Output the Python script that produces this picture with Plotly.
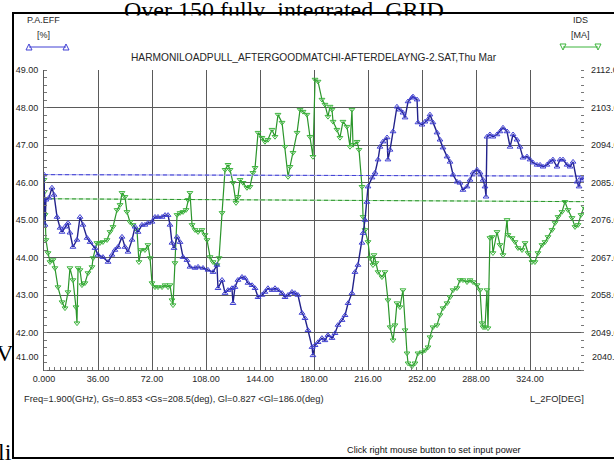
import plotly.graph_objects as go

# ---- sweep data: second-harmonic load angle L_2FO (deg) ----
eff_deg = [0, 0.7, 1.3, 3.3, 5.3, 6.7, 8.7, 10.7, 12, 14,
           16, 17.3, 19.3, 22, 24, 26, 28.7, 30.7, 34, 36,
           39.3, 42.7, 45.3, 47.3, 49.3, 52, 54, 56, 58.7, 60.7,
           62.7, 65.3, 67.3, 69.3, 72, 74, 76, 78.7, 80.7, 82.7,
           84, 85.3, 86.7, 88.7, 90.7, 92.7, 95.3, 97.3, 100.7, 102.7,
           106, 109.3, 112.7, 115.3, 116, 118.7, 120.7, 122.7, 125.3, 126,
           127.3, 129.3, 132, 134, 136, 138.7, 140.7, 142.7, 145.3, 147.3,
           149.3, 152, 154, 156, 158.7, 160.7, 162.7, 165.3, 167.3, 169.3,
           172, 174, 176, 178.7, 179.3, 180.7, 182.7, 185.3, 187.3, 189.3,
           192, 194, 196, 198.7, 200.7, 202.7, 205.3, 207.3, 209.3, 212,
           212.7, 214, 215.3, 216, 218.7, 220.7, 222.7, 224, 226, 228.7,
           229.3, 230.7, 232.7, 235.3, 237.3, 239.3, 240.7, 242.7, 245.3, 246,
           248.7, 249.3, 252, 254, 256, 257.3, 259.3, 262, 264, 266,
           268.7, 270.7, 272.7, 275.3, 277.3, 279.3, 282, 284, 286, 288.7,
           290.7, 292.7, 294, 294.7, 295.3, 297.3, 299.3, 302, 304, 306,
           308.7, 310.7, 312.7, 315.3, 317.3, 319.3, 322, 324, 326, 328.7,
           330.7, 332.7, 335.3, 337.3, 339.3, 342, 344, 346, 348.7, 350.7,
           352.7, 355.3, 356.7, 358, 359.3]

# P.A.EFF [%]
eff_pct = [46.21, 44.87, 45.54, 45.59, 45.86, 45.67, 45.08, 44.79, 44.68, 44.82,
           44.92, 44.66, 44.28, 44.47, 45.08, 44.87, 44.52, 44.41, 44.25, 44.07,
           44.01, 43.88, 44.07, 44.20, 44.28, 44.55, 44.28, 44.15, 44.47, 44.82,
           44.68, 44.87, 44.87, 44.92, 44.95, 45.08, 45.08, 45.08, 45.13, 45.13,
           44.87, 44.39, 44.25, 44.55, 44.41, 44.01, 43.93, 43.75, 43.72, 43.75,
           43.72, 43.67, 43.61, 43.80, 43.18, 43.40, 43.05, 43.13, 43.18, 42.78,
           43.21, 43.40, 43.48, 43.45, 43.32, 43.26, 43.18, 42.94, 43.00, 43.08,
           43.18, 43.13, 43.18, 43.13, 43.05, 42.94, 43.00, 43.08, 43.05, 43.00,
           42.52, 42.38, 42.06, 41.61, 41.39, 41.66, 41.74, 41.85, 41.79, 41.93,
           41.85, 41.98, 42.20, 42.33, 42.46, 42.78, 43.05, 43.61, 43.80, 44.39,
           44.65, 45.00, 45.48, 45.89, 46.13, 46.26, 46.61, 46.95, 47.09, 47.20,
           46.61, 46.87, 47.36, 48.02, 47.94, 47.86, 47.73, 48.16, 48.26, 48.29,
           48.21, 47.60, 47.54, 47.62, 47.68, 47.81, 47.60, 47.33, 47.14, 46.93,
           46.69, 46.55, 46.21, 46.02, 45.99, 45.80, 45.89, 46.07, 46.26, 46.34,
           46.26, 46.07, 45.89, 45.62, 47.22, 47.28, 47.22, 47.28, 47.36, 47.46,
           47.36, 46.95, 47.28, 47.14, 46.95, 46.66, 46.69, 46.61, 46.53, 46.47,
           46.47, 46.42, 46.47, 46.55, 46.61, 46.42, 46.61, 46.61, 46.47, 46.42,
           46.55, 46.02, 45.89, 46.13, 46.07]

ids_deg = [0, 0.3, 0.7, 1.3, 2.7, 4, 6, 7.3, 9.3, 12,
           14, 16, 17.3, 19.3, 21.3, 22, 22.7, 24, 25.3, 27.3,
           29.3, 32, 32.7, 35.3, 37.3, 39.3, 42, 44, 46, 48.7,
           50.7, 52, 54, 55.3, 57.3, 59.3, 62, 63.3, 64.7, 67.3,
           69.3, 70.7, 72, 74, 76, 78.7, 80.7, 82.7, 84, 85.3,
           86, 87.3, 88.7, 90.7, 92.7, 94.7, 96, 97.3, 98.7, 100.7,
           102.7, 105.3, 107.3, 108.7, 110.7, 112.7, 115.3, 116.7, 118.7, 120.7,
           122.7, 124, 126, 128, 129.3, 130.7, 132.7, 135.3, 137.3, 139.3,
           140.7, 142.7, 145.3, 147.3, 149.3, 152, 154, 156, 158.7, 160.7,
           162.7, 164, 166, 168.7, 170.7, 172.7, 175.3, 177.3, 179.3, 180.7,
           182.7, 185.3, 187.3, 189.3, 190.7, 192, 192.7, 195.3, 197.3, 199.3,
           202, 204, 205.3, 206, 208.7, 210, 212, 212.7, 214, 216,
           217.3, 219.3, 220, 221.3, 222.7, 225.3, 227.3, 229.3, 230.7, 232.7,
           234, 235.3, 237.3, 239.3, 240.7, 242, 242.7, 245.3, 247.3, 249.3,
           252, 254, 256, 257.3, 259.3, 262, 264, 266, 268.7, 270.7,
           272.7, 275.3, 277.3, 279.3, 282, 284, 286, 288.7, 290.7, 292,
           292.7, 294, 295.3, 296, 297.3, 298.7, 299.3, 302, 304, 306,
           308.7, 309.3, 312, 314, 316, 318.7, 320.7, 322.7, 325.3, 327.3,
           329.3, 332, 334, 336, 338.7, 340.7, 342.7, 345.3, 347.3, 349.3,
           352, 354, 356, 358, 360]

# IDS [MA]
ids_ma = [2085.65, 2082.76, 2077.23, 2071.21, 2068.08, 2065.92, 2066.40, 2064.47, 2059.90, 2056.29,
          2054.85, 2058.70, 2064.47, 2061.59, 2055.09, 2051.24, 2064.47, 2063.99, 2060.38, 2060.86,
          2063.27, 2064.72, 2066.88, 2070.49, 2070.49, 2070.73, 2071.21, 2073.14, 2074.34, 2078.43,
          2079.63, 2082.52, 2081.56, 2077.95, 2075.54, 2074.82, 2073.62, 2065.92, 2068.81, 2068.81,
          2070.01, 2066.88, 2060.86, 2059.90, 2059.90, 2059.90, 2060.38, 2059.90, 2060.38, 2056.77,
          2055.57, 2065.68, 2077.23, 2077.71, 2077.95, 2078.43, 2080.84, 2082.52, 2074.82, 2073.62,
          2073.14, 2073.62, 2072.42, 2071.21, 2067.12, 2065.92, 2065.20, 2066.88, 2077.71, 2088.06,
          2089.26, 2088.06, 2084.93, 2080.12, 2081.56, 2085.65, 2084.93, 2083.73, 2083.97, 2087.33,
          2088.54, 2096.96, 2095.75, 2094.79, 2095.27, 2097.68, 2095.99, 2101.29, 2099.37, 2093.59,
          2086.37, 2088.78, 2092.15, 2096.96, 2102.49, 2102.01, 2101.29, 2095.99, 2091.18, 2109.71,
          2109.23, 2104.90, 2103.70, 2100.81, 2103.22, 2102.49, 2099.61, 2097.68, 2095.75, 2099.61,
          2098.40, 2093.59, 2102.49, 2094.07, 2094.79, 2092.87, 2083.97, 2076.75, 2073.62, 2070.73,
          2066.88, 2065.20, 2067.60, 2065.68, 2063.51, 2062.31, 2063.51, 2056.77, 2050.28, 2047.15,
          2050.76, 2056.05, 2055.09, 2059.18, 2049.56, 2044.02, 2041.62, 2040.89, 2041.62, 2044.02,
          2044.26, 2044.74, 2045.47, 2047.88, 2050.28, 2050.76, 2053.17, 2054.85, 2056.05, 2057.50,
          2059.18, 2059.66, 2061.59, 2061.59, 2061.11, 2061.59, 2061.11, 2060.38, 2059.18, 2051.24,
          2050.28, 2050.28, 2059.18, 2050.04, 2071.69, 2071.93, 2068.08, 2073.14, 2070.01, 2067.60,
          2076.02, 2072.42, 2071.69, 2070.73, 2069.29, 2068.81, 2070.49, 2068.08, 2065.92, 2065.92,
          2068.08, 2070.01, 2070.73, 2071.93, 2073.62, 2075.30, 2076.75, 2077.95, 2080.36, 2078.43,
          2076.51, 2074.34, 2074.82, 2077.23, 2079.15]

# averaged reference levels across the sweep
ref_deg = [0, 360]
eff_ref = [46.21, 46.17]
ids_ref = [2081.1, 2080.4]

# axis ticks
x_ticks = [0, 36, 72, 108, 144, 180, 216, 252, 288, 324]
x_ticktext = ["0.000", "36.00", "72.00", "108.00", "144.00", "180.00",
              "216.00", "252.00", "288.00", "324.00"]
eff_ticks = [42, 43, 44, 45, 46, 47, 48, 49]
ids_ticks = [2049, 2058, 2067, 2076, 2085, 2094, 2103, 2112]

SANS = "Liberation Sans, Arial, sans-serif"
SERIF = "Liberation Serif, Times New Roman, serif"
TXT = "#262626"
GRID = "#5a5a5a"
BLUE_L, BLUE_M = "#22228a", "#4040d4"
GREEN_L, GREEN_M = "#2b952b", "#3db53d"

W, H = 614, 460
L, R, T, B = 44, 30, 70, 90
PW, PH = W - L - R, H - T - B


def xp(px):
    return (px - L) / PW


def yp(py):
    return (T + PH - py) / PH


fig = go.Figure()

# IDS on the base (right) axis
fig.add_trace(go.Scatter(x=ref_deg, y=ids_ref, mode="lines", yaxis="y",
                         line=dict(color="#8fd48f", width=1), hoverinfo="skip"))
fig.add_trace(go.Scatter(x=ref_deg, y=ids_ref, mode="lines", yaxis="y",
                         line=dict(color=GREEN_L, width=1, dash="4px,3px"), hoverinfo="skip"))
fig.add_trace(go.Scatter(x=ids_deg, y=ids_ma, mode="lines+markers", yaxis="y",
                         line=dict(color=GREEN_L, width=1.2),
                         marker=dict(symbol="triangle-down-open", size=5, color=GREEN_M,
                                     line=dict(width=1))))
# P.A.EFF on the overlaid left axis
fig.add_trace(go.Scatter(x=ref_deg, y=eff_ref, mode="lines", yaxis="y2",
                         line=dict(color="#a0a0ec", width=1), hoverinfo="skip"))
fig.add_trace(go.Scatter(x=ref_deg, y=eff_ref, mode="lines", yaxis="y2",
                         line=dict(color=BLUE_M, width=1, dash="4px,3px"), hoverinfo="skip"))
fig.add_trace(go.Scatter(x=eff_deg, y=eff_pct, mode="lines+markers", yaxis="y2",
                         line=dict(color=BLUE_L, width=1.4),
                         marker=dict(symbol="triangle-up-open", size=5, color=BLUE_M,
                                     line=dict(width=1))))

tickfont = dict(family=SANS, size=9, color=TXT)

fig.update_layout(
    width=W, height=H,
    margin=dict(l=L, r=R, t=T, b=B, pad=0),
    paper_bgcolor="white", plot_bgcolor="white",
    showlegend=False,
    xaxis=dict(range=[0, 360], tickvals=x_ticks, ticktext=x_ticktext,
               showgrid=True, gridcolor=GRID, gridwidth=1, zeroline=False,
               showline=True, linecolor=GRID, linewidth=1,
               ticks="inside", ticklen=5, tickcolor=GRID,
               minor=dict(dtick=3.6, tick0=0, ticks="inside", ticklen=3,
                          tickcolor="#777777", showgrid=False),
               tickfont=tickfont, automargin=False),
    yaxis=dict(range=[2040, 2112], side="right", tickvals=ids_ticks,
               ticktext=["%.2f" % v for v in ids_ticks],
               showgrid=True, gridcolor=GRID, gridwidth=1, zeroline=False,
               showline=False, ticks="", ticklabelstandoff=6,
               minor=dict(dtick=1.8, tick0=2040, ticks="inside", ticklen=3,
                          tickcolor="#777777", showgrid=False),
               tickfont=tickfont, automargin=False),
    yaxis2=dict(range=[41, 49], overlaying="y", side="left", tickvals=eff_ticks,
                ticktext=["%.2f" % v for v in eff_ticks],
                showgrid=False, zeroline=False,
                showline=True, linecolor=GRID, linewidth=1,
                ticks="", ticklabelstandoff=3,
                minor=dict(dtick=0.2, tick0=41, ticks="inside", ticklen=3,
                           tickcolor="#777777", showgrid=False),
                tickfont=tickfont, automargin=False),
)

ann = []
# justified document line, partly hidden behind the window
ann.append(dict(text="Over 150 fully\u2002integrated\u2002GRID",
                x=xp(122), y=yp(10), xanchor="left", yanchor="middle",
                font=dict(family=SERIF, size=24, color="black")))
ann.append(dict(text="\u00a0", x=xp(15), y=yp(14.5), xanchor="left", yanchor="top",
                width=640, height=18, bgcolor="white", borderpad=0))
ann.append(dict(text="V", x=xp(5), y=yp(353), xanchor="center", yanchor="middle",
                font=dict(family=SERIF, size=24, color="black")))
ann.append(dict(text="li", x=xp(5), y=yp(452), xanchor="center", yanchor="middle",
                font=dict(family=SERIF, size=24, color="black")))

small = dict(family=SANS, size=9, color=TXT)
ann += [
    dict(text="P.A.EFF", x=xp(43), y=yp(20), xanchor="center", yanchor="middle", font=small),
    dict(text="[%]", x=xp(43), y=yp(35), xanchor="center", yanchor="middle", font=small),
    dict(text="IDS", x=xp(580), y=yp(20), xanchor="center", yanchor="middle", font=small),
    dict(text="[MA]", x=xp(580), y=yp(35), xanchor="center", yanchor="middle", font=small),
    dict(text="HARMONILOADPULL_AFTERGOODMATCHI-AFTERDELAYNG-2.SAT,Thu Mar",
         x=xp(314), y=yp(58), xanchor="center", yanchor="middle",
         font=dict(family=SANS, size=10.2, color=TXT)),
    dict(text="Freq=1.900(GHz), Gs=0.853 <Gs=208.5(deg), Gl=0.827 <Gl=186.0(deg)",
         x=xp(22), y=yp(399), xanchor="left", yanchor="middle",
         font=dict(family=SANS, size=9.3, color=TXT)),
    dict(text="L_2FO[DEG]", x=xp(586), y=yp(399), xanchor="right", yanchor="middle",
         font=dict(family=SANS, size=9.3, color=TXT)),
    dict(text="Click right mouse button to set input power", x=xp(345), y=yp(450),
         xanchor="left", yanchor="middle", font=dict(family=SANS, size=9.2, color="#111111")),
    dict(text="41.00", x=xp(41), y=yp(357), xanchor="right", yanchor="middle", font=tickfont),
    dict(text="2040.00", x=xp(590), y=yp(357), xanchor="left", yanchor="middle", font=tickfont),
]
for a in ann:
    a.update(xref="paper", yref="paper", showarrow=False)
fig.update_layout(annotations=ann)

# window frame and legend glyphs
shapes = [dict(type="rect", xref="paper", yref="paper",
               x0=xp(13), x1=xp(640), y0=yp(458), y1=yp(13),
               line=dict(color="black", width=2), fillcolor="rgba(0,0,0,0)", layer="below")]


def seg(x0, x1, py, color):
    return dict(type="line", xref="paper", yref="paper", x0=xp(x0), x1=xp(x1),
                y0=yp(py), y1=yp(py), line=dict(color=color, width=1))


def tri(cx, cy, up, color):
    h = 3
    if up:
        pts = [(cx, cy - h), (cx - h, cy + h), (cx + h, cy + h)]
    else:
        pts = [(cx, cy + h), (cx - h, cy - h), (cx + h, cy - h)]
    path = "M " + " L ".join("%.5f,%.5f" % (xp(a), yp(b)) for a, b in pts) + " Z"
    return dict(type="path", xref="paper", yref="paper", path=path,
                line=dict(color=color, width=1))


shapes += [seg(29, 66, 47, BLUE_M), tri(29, 47, True, BLUE_M), tri(66, 47, True, BLUE_M),
           seg(563, 598, 47, GREEN_M), tri(563, 47, False, GREEN_M), tri(598, 47, False, GREEN_M)]
fig.update_layout(shapes=shapes)

fig.write_html("out.html")
